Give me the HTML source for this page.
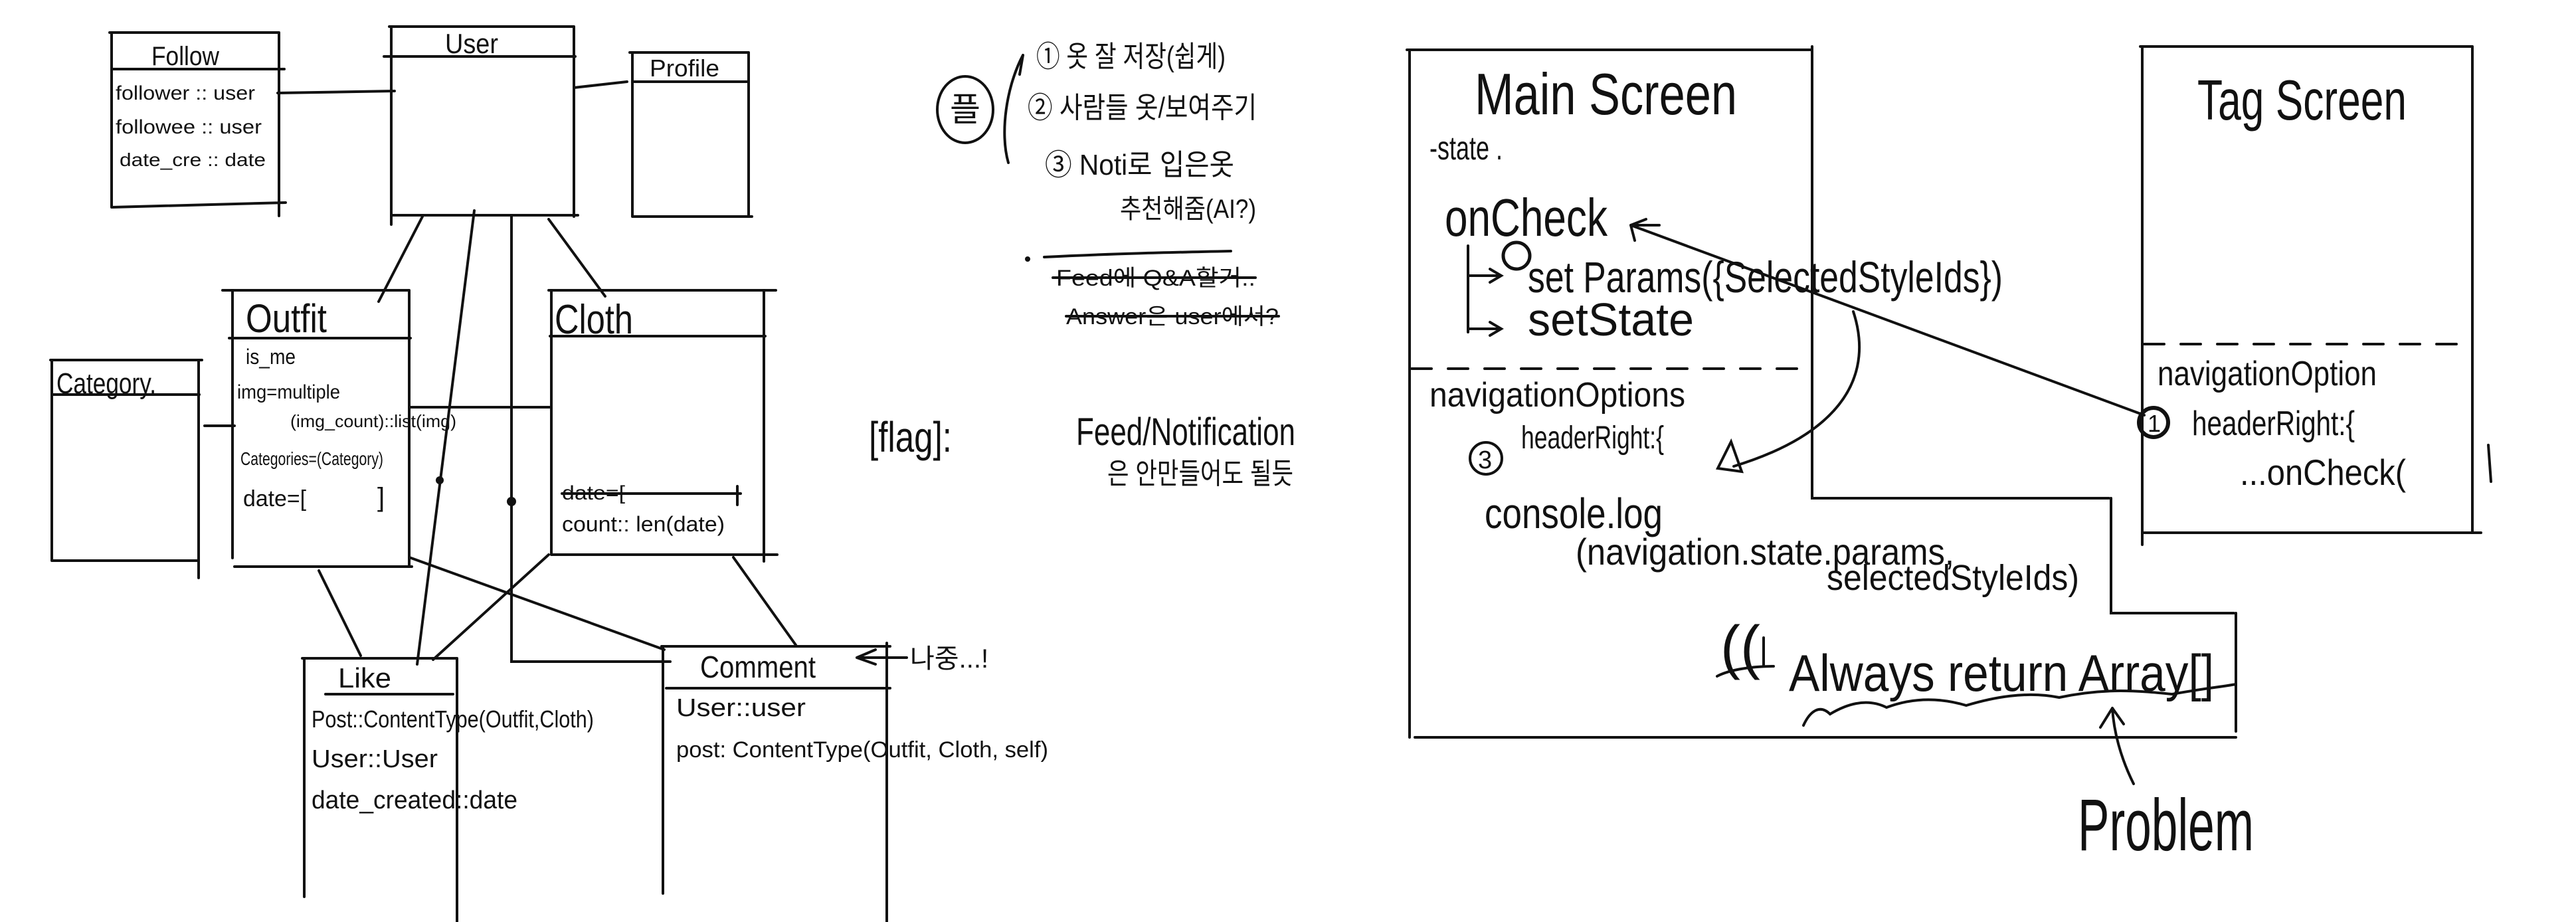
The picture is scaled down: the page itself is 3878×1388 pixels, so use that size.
<!DOCTYPE html>
<html><head><meta charset="utf-8"><style>
html,body{margin:0;padding:0;background:#fff;}
svg{display:block;}
text{font-family:"Liberation Sans","Noto Sans CJK KR",sans-serif;fill:#111;}
</style></head><body>
<svg width="3878" height="1388" viewBox="0 0 3878 1388" xmlns="http://www.w3.org/2000/svg">
<g stroke="#111" stroke-width="4" fill="none" stroke-linecap="round">
<!-- Follow -->
<path d="M165 49H420M168 49V312M420 49V325M168 104H428M168 312L430 305"/>
<!-- User -->
<path d="M586 40H864M589 40V338M864 40V326M578 85H866M589 324H870"/>
<!-- Profile -->
<path d="M948 79H1127M952 79V326M1127 79V326M952 123H1127M952 326H1132"/>
<!-- Outfit -->
<path d="M335 437H616M350 437V840M616 437V853M345 509H618M353 853H620"/>
<!-- Category -->
<path d="M76 542H304M78 542V844M299 542V870M78 594H300M78 844H299"/>
<!-- Cloth -->
<path d="M826 437H1168M830 437V835M1150 437V845M828 506H1152M830 835H1170"/>
<!-- Like -->
<path d="M455 991H688M458 991V1350M688 991V1388M490 1045H682"/>
<!-- Comment -->
<path d="M996 973H1340M998 973V1345M1335 968V1388M1003 1036H1340"/>
<!-- connectors -->
<path d="M418 140L594 137M864 132L944 123M636 326L570 454M714 317L628 1000M770 326V996H1009M826 330L911 446M616 613L830 613M308 641L353 641M480 859L543 987M616 839L1000 978M826 835L652 993M1104 839L1198 971"/>
<path d="M846 743H1115M1110 732V760"/>
<path d="M1290 990L1318 978M1290 990L1318 1000M1290 990H1365"/>
</g>
<g fill="#111"><circle cx="662" cy="723" r="6"/><circle cx="770" cy="755" r="7"/></g>

<!-- left text -->
<text x="228" y="98" font-size="40" textLength="102" lengthAdjust="spacingAndGlyphs">Follow</text>
<text x="174" y="150" font-size="30" textLength="210" lengthAdjust="spacingAndGlyphs">follower :: user</text>
<text x="174" y="201" font-size="30" textLength="220" lengthAdjust="spacingAndGlyphs">followee :: user</text>
<text x="180" y="250" font-size="28" textLength="220" lengthAdjust="spacingAndGlyphs">date_cre :: date</text>
<text x="670" y="80" font-size="42" textLength="80" lengthAdjust="spacingAndGlyphs">User</text>
<text x="978" y="115" font-size="36" textLength="105" lengthAdjust="spacingAndGlyphs">Profile</text>
<text x="370" y="500" font-size="60" textLength="122" lengthAdjust="spacingAndGlyphs">Outfit</text>
<text x="370" y="548" font-size="32" textLength="75" lengthAdjust="spacingAndGlyphs">is_me</text>
<text x="357" y="600" font-size="30" textLength="155" lengthAdjust="spacingAndGlyphs">img=multiple</text>
<text x="437" y="643" font-size="26" textLength="250" lengthAdjust="spacingAndGlyphs">(img_count)::list(img)</text>
<text x="362" y="700" font-size="28" textLength="215" lengthAdjust="spacingAndGlyphs">Categories=(Category)</text>
<text x="366" y="762" font-size="34" textLength="95" lengthAdjust="spacingAndGlyphs">date=[</text>
<text x="568" y="762" font-size="40">]</text>
<text x="85" y="592" font-size="44" textLength="150" lengthAdjust="spacingAndGlyphs">Category.</text>
<text x="835" y="502" font-size="62" textLength="118" lengthAdjust="spacingAndGlyphs">Cloth</text>
<text x="846" y="752" font-size="30" textLength="95" lengthAdjust="spacingAndGlyphs">date=[</text>
<text x="846" y="800" font-size="32" textLength="245" lengthAdjust="spacingAndGlyphs">count:: len(date)</text>
<text x="509" y="1035" font-size="42" textLength="80" lengthAdjust="spacingAndGlyphs">Like</text>
<text x="469" y="1095" font-size="36" textLength="425" lengthAdjust="spacingAndGlyphs">Post::ContentType(Outfit,Cloth)</text>
<text x="469" y="1155" font-size="38" textLength="190" lengthAdjust="spacingAndGlyphs">User::User</text>
<text x="469" y="1217" font-size="38" textLength="310" lengthAdjust="spacingAndGlyphs">date_created::date</text>
<text x="1054" y="1020" font-size="46" textLength="174" lengthAdjust="spacingAndGlyphs">Comment</text>
<text x="1018" y="1078" font-size="38" textLength="195" lengthAdjust="spacingAndGlyphs">User::user</text>
<text x="1018" y="1140" font-size="34" textLength="560" lengthAdjust="spacingAndGlyphs">post: ContentType(Outfit, Cloth, self)</text>
<text x="1370" y="1005" font-size="40">나중...!</text>

<!-- middle notes -->
<g stroke="#111" stroke-width="4" fill="none" stroke-linecap="round">
<ellipse cx="1453" cy="165" rx="42" ry="50"/>
<path d="M1540 83C1515 130 1505 200 1518 245M1540 83L1535 112"/>
<path d="M1572 387C1670 382 1760 380 1853 378"/>
<path d="M1585 418H1890M1605 476H1925"/>
</g>
<circle cx="1547" cy="390" r="4" fill="#111"/>
<text x="1430" y="182" font-size="50">플</text>
<text x="1560" y="100" font-size="44" textLength="285" lengthAdjust="spacingAndGlyphs">① 옷 잘 저장(쉽게)</text>
<text x="1547" y="177" font-size="44" textLength="345" lengthAdjust="spacingAndGlyphs">② 사람들 옷/보여주기</text>
<text x="1573" y="263" font-size="44" textLength="285" lengthAdjust="spacingAndGlyphs">③ Noti로 입은옷</text>
<text x="1686" y="328" font-size="40" textLength="205" lengthAdjust="spacingAndGlyphs">추천해줌(AI?)</text>
<text x="1590" y="430" font-size="34" textLength="300" lengthAdjust="spacingAndGlyphs">Feed에 Q&amp;A할거..</text>
<text x="1605" y="488" font-size="34" textLength="320" lengthAdjust="spacingAndGlyphs">Answer은 user에서?</text>
<text x="1308" y="680" font-size="64" textLength="125" lengthAdjust="spacingAndGlyphs">[flag]:</text>
<text x="1620" y="670" font-size="58" textLength="330" lengthAdjust="spacingAndGlyphs">Feed/Notification</text>
<text x="1667" y="728" font-size="44" textLength="280" lengthAdjust="spacingAndGlyphs">은 안만들어도 될듯</text>

<!-- right diagram -->
<g stroke="#111" stroke-width="4" fill="none" stroke-linecap="round">
<path d="M2118 75H2728M2122 75V1110M2728 70V750H3175M3178 750V923H3363M3366 923V1101M2130 1110H3366"/>
<path d="M2125 555H2725" stroke-dasharray="30 25"/>
<path d="M3222 70H3722M3225 70V820M3722 70V800M3225 802H3735M3746 670L3750 725"/>
<path d="M3228 518H3718" stroke-dasharray="30 25"/>
<path d="M2210 370V500M2210 415H2258M2243 405L2260 415L2243 425M2210 495H2258M2243 485L2260 495L2243 505"/>
<path d="M3228 625L2455 339M2455 339L2478 330M2455 339L2461 362M2455 339H2498"/>
<path d="M2790 469C2820 560 2780 650 2610 702"/>
<path d="M2586 705L2606 665L2622 710Z"/>
<path d="M2585 1018C2600 1010 2630 1003 2670 1003M2655 960V1003"/>
<path d="M2715 1092C2725 1070 2740 1060 2755 1075C2780 1060 2810 1050 2840 1065C2880 1050 2920 1050 2960 1062C3000 1050 3050 1040 3100 1050C3170 1035 3220 1040 3270 1045C3320 1036 3345 1034 3366 1030"/>
<path d="M3212 1180C3192 1140 3182 1100 3180 1066M3180 1066L3162 1095M3180 1066L3197 1090"/>
</g>
<circle cx="2283" cy="385" r="20" fill="none" stroke="#111" stroke-width="5"/>
<circle cx="2237" cy="690" r="24" fill="none" stroke="#111" stroke-width="4"/>
<circle cx="3242" cy="636" r="22" fill="none" stroke="#111" stroke-width="6"/>
<text x="2220" y="172" font-size="88" textLength="395" lengthAdjust="spacingAndGlyphs">Main Screen</text>
<text x="2152" y="240" font-size="50" textLength="110" lengthAdjust="spacingAndGlyphs">-state .</text>
<text x="2175" y="355" font-size="80" textLength="245" lengthAdjust="spacingAndGlyphs">onCheck</text>
<text x="2300" y="440" font-size="66" textLength="715" lengthAdjust="spacingAndGlyphs">set Params({SelectedStyleIds})</text>
<text x="2300" y="505" font-size="70" textLength="250" lengthAdjust="spacingAndGlyphs">setState</text>
<text x="2152" y="612" font-size="52" textLength="385" lengthAdjust="spacingAndGlyphs">navigationOptions</text>
<text x="2225" y="705" font-size="38">3</text>
<text x="2290" y="675" font-size="48" textLength="215" lengthAdjust="spacingAndGlyphs">headerRight:{</text>
<text x="2235" y="795" font-size="64" textLength="268" lengthAdjust="spacingAndGlyphs">console.log</text>
<text x="2372" y="850" font-size="56" textLength="570" lengthAdjust="spacingAndGlyphs">(navigation.state.params,</text>
<text x="2750" y="888" font-size="54" textLength="380" lengthAdjust="spacingAndGlyphs">selectedStyleIds)</text>
<text x="2590" y="1005" font-size="90">((</text>
<text x="2693" y="1040" font-size="78" textLength="640" lengthAdjust="spacingAndGlyphs">Always return Array[]</text>
<text x="3128" y="1280" font-size="110" textLength="265" lengthAdjust="spacingAndGlyphs">Problem</text>
<text x="3308" y="180" font-size="85" textLength="315" lengthAdjust="spacingAndGlyphs">Tag Screen</text>
<text x="3248" y="580" font-size="52" textLength="330" lengthAdjust="spacingAndGlyphs">navigationOption</text>
<text x="3233" y="650" font-size="36">1</text>
<text x="3300" y="655" font-size="52" textLength="245" lengthAdjust="spacingAndGlyphs">headerRight:{</text>
<text x="3372" y="730" font-size="55" textLength="250" lengthAdjust="spacingAndGlyphs">...onCheck(</text>
</svg>
</body></html>
